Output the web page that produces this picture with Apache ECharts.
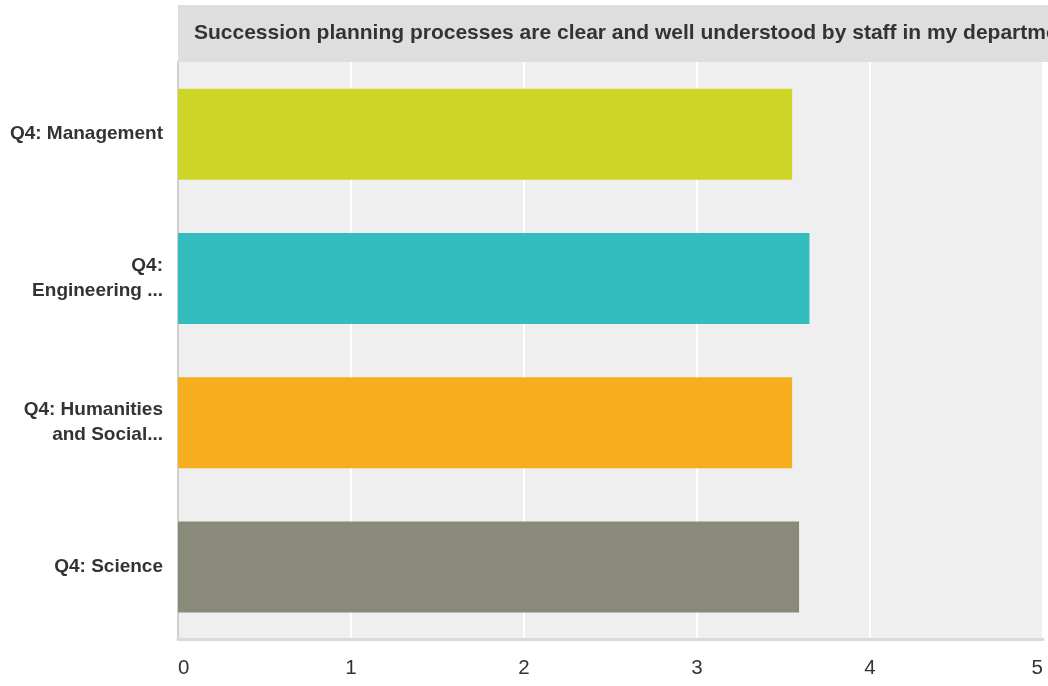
<!DOCTYPE html>
<html><head><meta charset="utf-8">
<script src="https://cdn.jsdelivr.net/npm/echarts@6/dist/echarts.min.js"></script>
<style>html,body{margin:0;padding:0;background:#fff}#c{width:1048px;height:686px}</style>
</head><body><div id="c"></div>
<script>
const titleText = 'Succession planning processes are clear and well understood by staff in my department';
const categories = ['Q4: Management', 'Q4:\nEngineering ...', 'Q4: Humanities\nand Social...', 'Q4: Science'];
const values = [3.55, 3.65, 3.55, 3.59];
const barColors = ['#cfd527', '#33bdbf', '#f6ae1f', '#898a7a'];
const xTicks = [0, 1, 2, 3, 4, 5];

const chart = echarts.init(document.getElementById('c'), null, {renderer: 'canvas'});
chart.setOption({
  animation: false,
  backgroundColor: '#ffffff',
  title: {
    text: titleText,
    left: 178, top: 5,
    padding: [18, 20, 18, 16],
    backgroundColor: '#dedede',
    textStyle: {fontFamily: 'Liberation Sans, Arial, sans-serif', fontWeight: 'bold', fontSize: 21, lineHeight: 21, color: '#333333'}
  },
  grid: {left: 178, right: 5, top: 62, bottom: 47, show: true, backgroundColor: '#efefef', borderWidth: 0},
  xAxis: {
    type: 'value', min: xTicks[0], max: xTicks[xTicks.length - 1], interval: 1,
    axisLine: {show: true, onZero: false, lineStyle: {color: '#dadada', width: 3}},
    axisTick: {show: false},
    splitLine: {show: true, lineStyle: {color: '#ffffff', width: 2}},
    axisLabel: {color: '#333333', fontSize: 20.5, margin: 19, fontFamily: 'Liberation Sans, Arial, sans-serif',
      alignMinLabel: 'left', alignMaxLabel: 'right'}
  },
  yAxis: {
    type: 'category', data: categories, inverse: true,
    axisLine: {show: true, lineStyle: {color: '#d0d0d0', width: 2}},
    axisTick: {show: false},
    axisLabel: {color: '#333333', fontSize: 19, fontWeight: 'bold', lineHeight: 25, margin: 15, align: 'right',
      fontFamily: 'Liberation Sans, Arial, sans-serif'}
  },
  series: [{
    type: 'bar', barWidth: 91,
    data: values.map((v, i) => ({value: v, itemStyle: {color: barColors[i]}}))
  }]
});
</script></body></html>
